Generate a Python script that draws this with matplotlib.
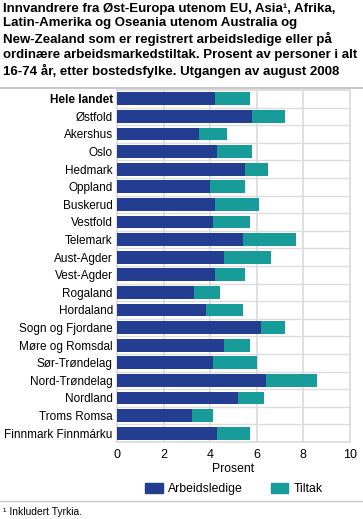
import matplotlib
matplotlib.use("Agg")
import matplotlib.pyplot as plt
from matplotlib.patches import Patch
from matplotlib.lines import Line2D

plt.rcParams["font.family"] = ["Liberation Sans", "DejaVu Sans"]

FYLKER = [
    "Hele landet", "Østfold", "Akershus", "Oslo", "Hedmark", "Oppland",
    "Buskerud", "Vestfold", "Telemark", "Aust-Agder", "Vest-Agder",
    "Rogaland", "Hordaland", "Sogn og Fjordane", "Møre og Romsdal",
    "Sør-Trøndelag", "Nord-Trøndelag", "Nordland", "Troms Romsa",
    "Finnmark Finnmárku",
]
ARBEIDSLEDIGE = [4.2, 5.8, 3.5, 4.3, 5.5, 4.0, 4.2, 4.1, 5.4, 4.6,
                 4.2, 3.3, 3.8, 6.2, 4.6, 4.1, 6.4, 5.2, 3.2, 4.3]
TILTAK = [1.5, 1.4, 1.2, 1.5, 1.0, 1.5, 1.9, 1.6, 2.3, 2.0,
          1.3, 1.1, 1.6, 1.0, 1.1, 1.9, 2.2, 1.1, 0.9, 1.4]
XTICKS = [0, 2, 4, 6, 8, 10]

TITLE = ("Innvandrere fra Øst-Europa utenom EU, Asia¹, Afrika,\n"
         "Latin-Amerika og Oseania utenom Australia og\n"
         "New-Zealand som er registrert arbeidsledige eller på\n"
         "ordinære arbeidsmarkedstiltak. Prosent av personer i alt\n"
         "16-74 år, etter bostedsfylke. Utgangen av august 2008")

BLUE = "#233e90"
TEAL = "#179c99"
GRID = "#dcdcdc"

W, H = 363, 519
fig = plt.figure(figsize=(W / 100, H / 100), dpi=100)

fig.text(3 / W, 1 - 3 / H, TITLE, fontsize=9.55, fontweight="bold",
         va="top", ha="left", linespacing=1.27)
fig.add_artist(Line2D([0, 1], [1 - 88 / H] * 2, color="#c8c8c8", lw=1.5))

ax = fig.add_axes([117 / W, 77 / H, 233 / W, 352 / H])
y = range(len(FYLKER))
ax.barh(y, ARBEIDSLEDIGE, height=0.72, color=BLUE, label="Arbeidsledige",
        zorder=3)
ax.barh(y, TILTAK, left=ARBEIDSLEDIGE, height=0.72, color=TEAL,
        label="Tiltak", zorder=3)

ax.set_xlim(0, 10)
ax.set_ylim(len(FYLKER) - 0.5, -0.5)
ax.set_xticks(XTICKS)
ax.set_xticklabels([str(t) for t in XTICKS])
ax.set_yticks(list(y))
ax.set_yticklabels(FYLKER)
ax.get_yticklabels()[0].set_fontweight("bold")
ax.tick_params(length=0, labelsize=8.5, pad=3)
ax.tick_params(axis="x", labelsize=9, pad=5)

for x in XTICKS[1:-1]:
    ax.axvline(x, color=GRID, lw=1.3, zorder=1)
for i in range(len(FYLKER) - 1):
    ax.axhline(i + 0.5, color=GRID, lw=1.0, zorder=1)
for s in ax.spines.values():
    s.set_color(GRID)
    s.set_linewidth(1.3)

ax.set_xlabel("Prosent", fontsize=8.8, labelpad=1.5)

handles = [Patch(facecolor=BLUE, edgecolor=BLUE), Patch(facecolor=TEAL, edgecolor=TEAL)]
fig.legend(handles, ["Arbeidsledige", "Tiltak"], loc="center",
           bbox_to_anchor=(234 / W, 1 - 489 / H), ncol=2, frameon=False,
           fontsize=8.8, handlelength=1.4, handleheight=0.9,
           columnspacing=2.3, handletextpad=0.45)

fig.add_artist(Line2D([0, 1], [1 - 501 / H] * 2, color="#c8c8c8", lw=1.0))
fig.text(3 / W, 1 - 512 / H, "¹ Inkludert Tyrkia.", fontsize=7.4,
         va="center", ha="left")

fig.savefig("out.png", dpi=100)
